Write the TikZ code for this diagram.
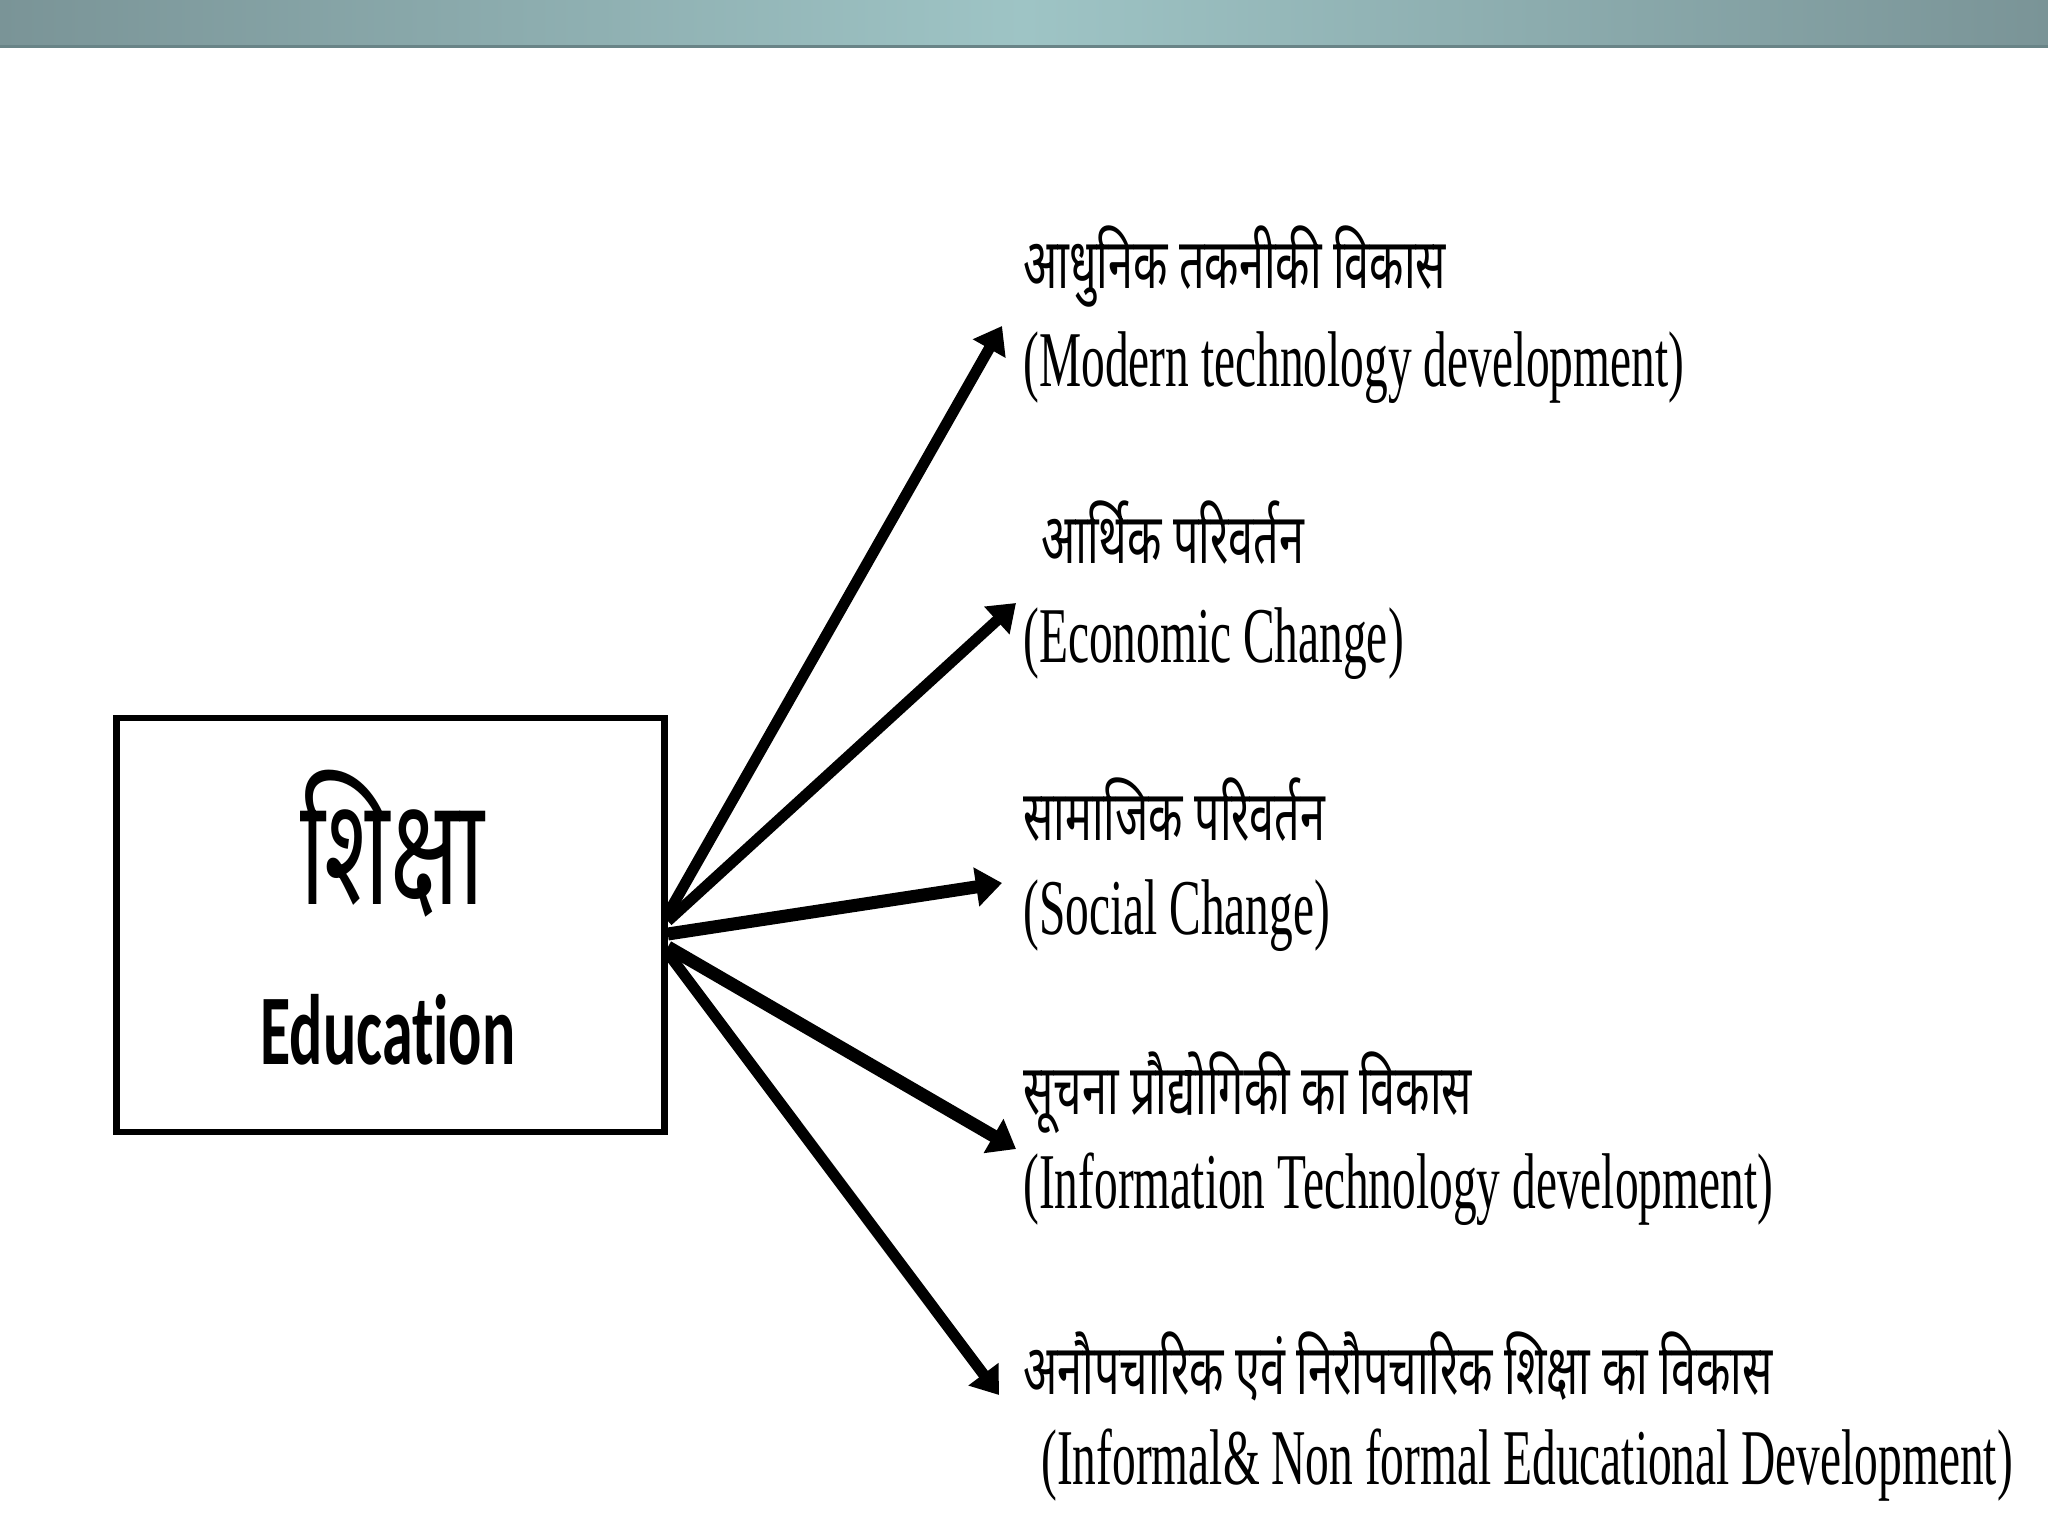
\documentclass[tikz,border=0pt]{standalone}
\usepackage{fontspec}
\usetikzlibrary{arrows.meta}
\newfontfamily\hin[Script=Devanagari,FakeStretch=0.64]{Noto Sans}
\newfontfamily\eng[FakeStretch=0.6]{Liberation Serif}
\newfontfamily\edu[FakeStretch=0.62,Ligatures=NoCommon]{Carlito}
\definecolor{bandedge}{RGB}{122,148,151}
\definecolor{bandmid}{RGB}{158,196,197}
\definecolor{bandline}{RGB}{105,132,135}
\begin{document}
\begin{tikzpicture}[x=0.5pt,y=-0.5pt,
  hinlab/.style={anchor=west,inner sep=0pt,font=\hin\fontsize{35}{37}\selectfont,text height=0.75em,text depth=0.2em},
  englab/.style={anchor=west,inner sep=0pt,font=\eng\fontsize{39.5}{42}\selectfont,text height=0.69em,text depth=0.18em},
  arr/.style={line width=5.5pt,-{Triangle[length=13pt,width=18pt]}},
  arrthick/.style={line width=6.5pt,-{Triangle[length=13pt,width=19pt]}}]
\useasboundingbox (0,0) rectangle (2048,1535);
\fill[white] (0,0) rectangle (2048,1535);
\shade[left color=bandedge,right color=bandedge,middle color=bandmid] (0,0) rectangle (2048,46);
\fill[bandline] (0,45) rectangle (2048,48);
% central box
\node[draw,line width=3.3pt,minimum width=274pt,minimum height=207pt,inner sep=0pt] (box) at (390.5,925) {};
\node[anchor=base,inner sep=0pt,font=\hin\fontsize{75}{80}\selectfont] (shiksha) at (392,904) {शिक्षा};
\node[anchor=base,inner sep=0pt,font=\edu\bfseries\fontsize{50}{55}\selectfont] (edu) at (388,1064) {Education};
% labels
\node[hinlab] (h1) at (1023,283) {आधुनिक तकनीकी विकास};
\node[englab] (e1) at (1023,381) {(Modern technology development)};
\node[hinlab] (h2) at (1041,558) {आर्थिक परिवर्तन};
\node[englab] (e2) at (1023,657) {(Economic Change)};
\node[hinlab] (h3) at (1023,835) {सामाजिक परिवर्तन};
\node[englab] (e3) at (1023,929) {(Social Change)};
\node[hinlab] (h4) at (1023,1109) {सूचना प्रौद्योगिकी का विकास};
\node[englab] (e4) at (1023,1203) {(Information Technology development)};
\node[hinlab] (h5) at (1023,1389) {अनौपचारिक एवं निरौपचारिक शिक्षा का विकास};
\node[englab] (e5) at (1041,1479) {(Informal\& Non formal Educational Development)};
% arrow tips
\coordinate (t1) at (1002,326);
\coordinate (t2) at (1016,603);
\coordinate (t3) at (1002,883);
\coordinate (t4) at (1016,1149);
\coordinate (t5) at (999,1395);
\draw[arr] ([yshift=5.5pt]box.east) -- (t1);
\draw[arr] ([yshift=2pt]box.east) -- (t2);
\draw[arrthick] ([yshift=-4.5pt]box.east) -- (t3);
\draw[arrthick] ([yshift=-11pt]box.east) -- (t4);
\draw[arr] ([yshift=-14pt]box.east) -- (t5);
\end{tikzpicture}
\end{document}
